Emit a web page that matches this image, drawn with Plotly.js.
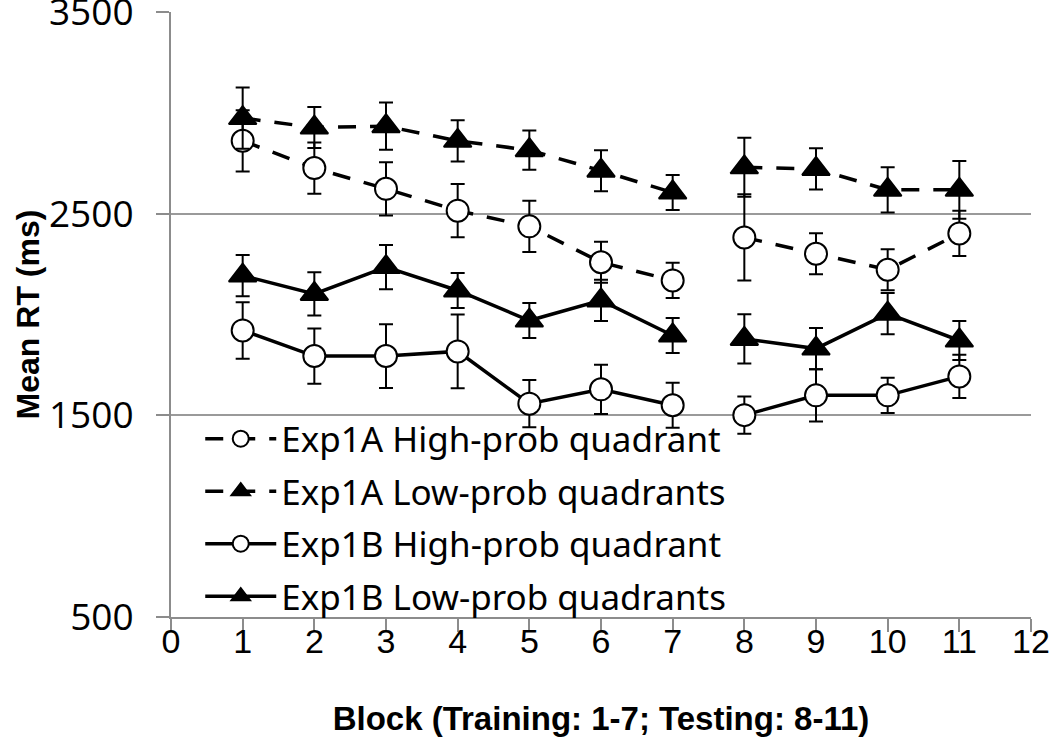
<!DOCTYPE html>
<html>
<head>
<meta charset="utf-8">
<script src="https://cdn.plot.ly/plotly-3.0.1.min.js"></script>
<style>html,body{margin:0;padding:0;background:#fff;}#chart{width:1050px;height:753px;}</style>
</head>
<body>
<div id="chart"></div>
<script>
const blocks = [1, 2, 3, 4, 5, 6, 7, 8, 9, 10, 11];
const seriesNames = ["Exp1A High-prob quadrant", "Exp1A Low-prob quadrants", "Exp1B High-prob quadrant", "Exp1B Low-prob quadrants"];
const exp1aHigh = [2861, 2726, 2623, 2515, 2437, 2259, 2169, 2382, 2301, 2222, 2402];
const exp1aHighErr = [152, 127, 132, 132, 127, 102, 87, 214, 102, 102, 112];
const exp1aLow = [2974, 2927, 2934, 2861, 2815, 2713, 2605, 2730, 2722, 2618, 2618];
const exp1aLowErr = [152, 102, 117, 102, 97, 102, 87, 146, 102, 112, 143];
const exp1bHigh = [1921, 1794, 1794, 1817, 1558, 1629, 1550, 1501, 1599, 1599, 1693];
const exp1bHighErr = [140, 137, 158, 183, 117, 122, 112, 92, 129, 87, 107];
const exp1bLow = [2193, 2102, 2235, 2119, 1970, 2070, 1896, 1879, 1831, 2004, 1871];
const exp1bLowErr = [102, 107, 110, 87, 87, 102, 87, 122, 102, 102, 97];
const xTickVals = [0, 1, 2, 3, 4, 5, 6, 7, 8, 9, 10, 11, 12];
const yTickVals = [500, 1500, 2500, 3500];
const lastTrainingBlock = 7;

// insert a gap between training (1-7) and testing (8-11)
function withGap(xs, ys) {
  const gx = [], gy = [];
  xs.forEach((x, i) => {
    gx.push(x); gy.push(ys[i]);
    if (x === lastTrainingBlock) { gx.push(x + 0.5); gy.push(null); }
  });
  return [gx, gy];
}

function makeTrace(name, ys, errs, symbol, dash) {
  const [gx, gy] = withGap(blocks, ys);
  const [, ge] = withGap(blocks, errs);
  const filled = symbol === 'triangle-up';
  return {
    type: 'scatter', mode: 'lines+markers', name: name,
    x: gx, y: gy, connectgaps: false,
    line: {color: '#000', width: 3.5, dash: dash},
    marker: {symbol: symbol, size: filled ? 24 : 22, color: filled ? '#000' : '#fff',
             line: {color: '#000', width: 2}},
    error_y: {type: 'data', array: ge.map(v => v === null ? 0 : v), visible: true,
              color: '#000', thickness: 2, width: 7},
    legendgroup: name
  };
}

const dashA = '18px,14px';
const data = [
  makeTrace(seriesNames[0], exp1aHigh, exp1aHighErr, 'circle', dashA),
  makeTrace(seriesNames[1], exp1aLow, exp1aLowErr, 'triangle-up', dashA),
  makeTrace(seriesNames[2], exp1bHigh, exp1bHighErr, 'circle', 'solid'),
  makeTrace(seriesNames[3], exp1bLow, exp1bLowErr, 'triangle-up', 'solid')
];

const layout = {
  width: 1050, height: 753,
  margin: {l: 171, r: 19, t: 12, b: 136},
  paper_bgcolor: '#fff', plot_bgcolor: '#fff',
  showlegend: true,
  legend: {x: 0.034, y: 0.343, xanchor: 'left', yanchor: 'top',
           bgcolor: 'rgba(255,255,255,0)', itemwidth: 71,
           traceorder: 'grouped', tracegroupgap: 4,
           font: {family: 'Noto Sans, sans-serif', size: 35, color: '#000'}},
  xaxis: {
    range: [0, 12], tickvals: xTickVals, ticktext: xTickVals.map(String),
    showgrid: false, zeroline: false, showline: true, linecolor: '#8c8c8c', linewidth: 2,
    ticks: 'outside', ticklen: 13, tickwidth: 2, tickcolor: '#8c8c8c',
    ticklabelstandoff: -20,
    tickfont: {family: 'Liberation Sans Narrow, Liberation Sans, sans-serif', size: 34, color: '#000'},
    title: {text: '<b>Block (Training: 1-7; Testing: 8-11)</b>', standoff: 48,
            font: {family: 'Liberation Sans Narrow, Liberation Sans, sans-serif', size: 33, color: '#000'}}
  },
  yaxis: {
    range: [500, 3500], tickvals: yTickVals, ticktext: yTickVals.map(String),
    showgrid: true, gridcolor: '#9a9a9a', gridwidth: 2,
    zeroline: false, showline: true, linecolor: '#8c8c8c', linewidth: 2,
    ticks: 'outside', ticklen: 13, tickwidth: 2, tickcolor: '#8c8c8c',
    ticklabelstandoff: 15, ticklabeloverflow: 'allow',
    tickfont: {family: 'Open Sans, sans-serif', size: 37, color: '#000'},
    title: {text: '<b>Mean RT (ms)</b>', standoff: 0,
            font: {family: 'Liberation Sans Narrow, Liberation Sans, sans-serif', size: 32, color: '#000'}}
  }
};

Plotly.newPlot('chart', data, layout, {displayModeBar: false, staticPlot: true});
</script>
</body>
</html>
